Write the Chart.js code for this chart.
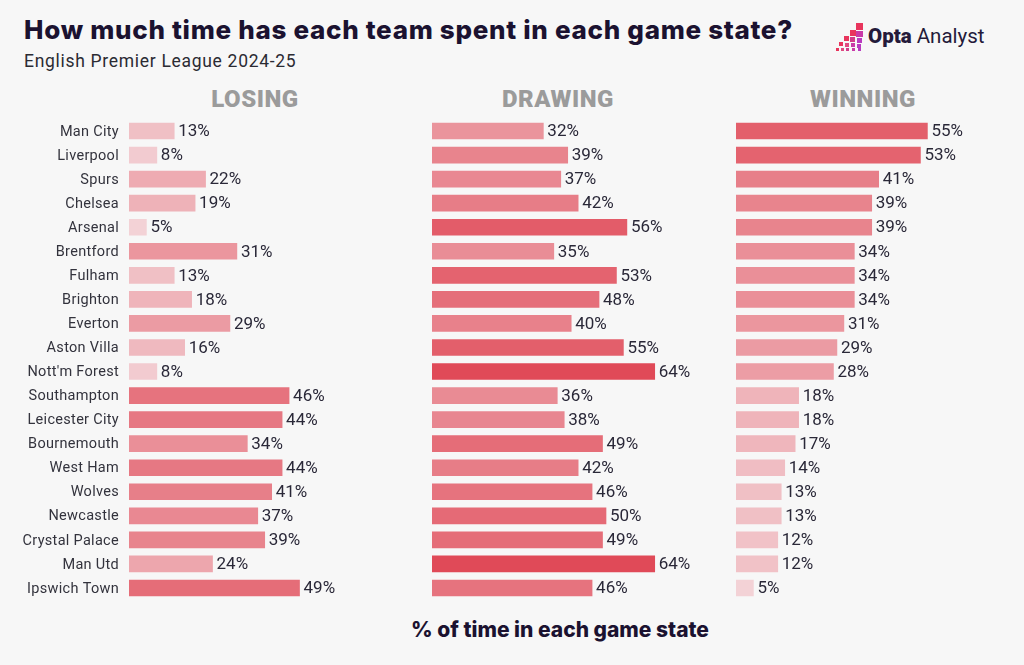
<!DOCTYPE html>
<html>
<head>
<meta charset="utf-8">
<script src="https://cdn.jsdelivr.net/npm/chart.js@4.4.1/dist/chart.umd.min.js"></script>
<style>
  html, body { margin:0; padding:0; background:#f7f7f7; }
  body { width:1024px; height:665px; position:relative; overflow:hidden; font-family:"Roboto", sans-serif; }
  #title { position:absolute; left:24px; top:14px; font-family:"Inter", sans-serif; font-weight:800; font-size:26px; color:#1b1230; letter-spacing:0.7px; white-space:nowrap; }
  #subtitle { position:absolute; left:24px; top:51px; font-family:"Roboto", sans-serif; font-size:17.5px; color:#2b2b33; letter-spacing:0.7px; white-space:nowrap; }
  .head { position:absolute; top:85px; font-family:"Roboto", sans-serif; font-weight:900; font-size:24px; color:#9b9b9b; letter-spacing:0.5px; transform:translateX(-50%); white-space:nowrap; }
  #xlabel { position:absolute; left:560px; top:617px; transform:translateX(-50%); font-family:"Inter", sans-serif; font-weight:800; font-size:21px; color:#1b1230; white-space:nowrap; }
  .cv { position:absolute; top:119px; height:481px; }
  #logo { position:absolute; left:836px; top:21px; width:170px; height:30px; }
  #logo .sq { position:absolute; }
  #logo .txt { position:absolute; left:32px; top:0px; font-family:"Roboto", sans-serif; font-size:20.5px; color:#241a3a; white-space:nowrap; line-height:30px; }
  #logo .txt b { font-weight:900; }
</style>
</head>
<body>
<div id="title">How much time has each team spent in each game state?</div>
<div id="subtitle">English Premier League 2024-25</div>
<div id="logo">
  <div class="sq" style="left:20px;top:2px;width:7px;height:7px;background:#e8355d"></div>
  <div class="sq" style="left:14px;top:9px;width:6px;height:6px;background:#e8355d"></div>
  <div class="sq" style="left:20px;top:10px;width:7px;height:6px;background:#c93aa8"></div>
  <div class="sq" style="left:8px;top:15px;width:5px;height:5px;background:#e8355d"></div>
  <div class="sq" style="left:14px;top:16px;width:5px;height:5px;background:#d23a8a"></div>
  <div class="sq" style="left:21px;top:17px;width:5px;height:5px;background:#b93ac0"></div>
  <div class="sq" style="left:3px;top:21px;width:4px;height:4px;background:#e8355d"></div>
  <div class="sq" style="left:9px;top:22px;width:4px;height:4px;background:#e04a80"></div>
  <div class="sq" style="left:15px;top:22px;width:4px;height:4px;background:#c93aa8"></div>
  <div class="sq" style="left:21px;top:23px;width:4px;height:4px;background:#b93ac0"></div>
  <div class="sq" style="left:0px;top:27px;width:3px;height:3px;background:#e8355d"></div>
  <div class="sq" style="left:5px;top:27px;width:3px;height:3px;background:#e04a80"></div>
  <div class="sq" style="left:10px;top:27px;width:3px;height:3px;background:#d23a8a"></div>
  <div class="sq" style="left:16px;top:27px;width:3px;height:3px;background:#c93aa8"></div>
  <div class="sq" style="left:22px;top:27px;width:3px;height:3px;background:#b93ac0"></div>
  <div class="txt"><b>Opta</b> Analyst</div>
</div>
<div class="head" style="left:255px">LOSING</div>
<div class="head" style="left:558px">DRAWING</div>
<div class="head" style="left:863px">WINNING</div>
<canvas id="c1" class="cv" style="left:0px;width:420px"></canvas>
<canvas id="c2" class="cv" style="left:432px;width:300px"></canvas>
<canvas id="c3" class="cv" style="left:736px;width:288px"></canvas>
<div id="xlabel">% of time in each game state</div>
<script>
const teams = ["Man City","Liverpool","Spurs","Chelsea","Arsenal","Brentford","Fulham","Brighton","Everton","Aston Villa","Nott'm Forest","Southampton","Leicester City","Bournemouth","West Ham","Wolves","Newcastle","Crystal Palace","Man Utd","Ipswich Town"];
const losing  = [13,8,22,19,5,31,13,18,29,16,8,46,44,34,44,41,37,39,24,49];
const drawing = [32,39,37,42,56,35,53,48,40,55,64,36,38,49,42,46,50,49,64,46];
const winning = [55,53,41,39,39,34,34,34,31,29,28,18,18,17,14,13,13,12,12,5];

function colorFor(v) {
  const t = Math.max(0, Math.min(1, (v - 5) / 59));
  const r = Math.round(243 + (224 - 243) * t);
  const g = Math.round(210 + (74 - 210) * t);
  const b = Math.round(214 + (88 - 214) * t);
  return `rgb(${r},${g},${b})`;
}

const valueLabels = {
  id: 'valueLabels',
  afterDatasetsDraw(chart) {
    const ctx = chart.ctx;
    const ds = chart.data.datasets[0];
    const meta = chart.getDatasetMeta(0);
    ctx.save();
    ctx.font = '17px "Roboto", sans-serif';
    ctx.fillStyle = '#2a2838';
    ctx.textBaseline = 'middle';
    ctx.textAlign = 'left';
    meta.data.forEach((bar, i) => {
      ctx.fillText(ds.data[i] + '%', bar.x + 4, bar.y + 1);
    });
    ctx.restore();
  }
};

const teamLabels = {
  id: 'teamLabels',
  afterDraw(chart, args, opts) {
    if (!opts.show) return;
    const ctx = chart.ctx;
    const y = chart.scales.y;
    ctx.save();
    ctx.font = '14.5px "Roboto", sans-serif';
    try { ctx.letterSpacing = '0.3px'; } catch (e) {}
    ctx.fillStyle = '#33333d';
    ctx.textBaseline = 'middle';
    ctx.textAlign = 'right';
    chart.data.labels.forEach((lab, i) => {
      ctx.fillText(lab, chart.chartArea.left - 10, y.getPixelForValue(i) + 1);
    });
    ctx.restore();
  }
};

const PX_PER_PCT = 3.48;
const XMAX = 80;

function makeChart(id, values, showLabels) {
  const left = showLabels ? 129 : 0;
  const canvas = document.getElementById(id);
  const cssW = parseInt(canvas.style.width);
  const areaW = XMAX * PX_PER_PCT;
  return new Chart(canvas, {
    type: 'bar',
    data: {
      labels: teams,
      datasets: [{
        data: values,
        backgroundColor: values.map(colorFor),
        borderWidth: 0,
        barThickness: 16
      }]
    },
    options: {
      indexAxis: 'y',
      responsive: false,
      maintainAspectRatio: false,
      animation: false,
      layout: { padding: { left: left, right: cssW - left - areaW, top: 0, bottom: 0 } },
      plugins: { legend: { display: false }, tooltip: { enabled: false }, teamLabels: { show: showLabels } },
      scales: {
        x: { display: false, min: 0, max: XMAX, grid: { display: false } },
        y: { display: false, grid: { display: false } }
      }
    },
    plugins: [valueLabels, teamLabels]
  });
}

['c1','c2','c3'].forEach(id => {
  const c = document.getElementById(id);
  c.width = parseInt(c.style.width);
  c.height = 481;
});

makeChart('c1', losing, true);
makeChart('c2', drawing, false);
makeChart('c3', winning, false);
</script>
</body>
</html>
